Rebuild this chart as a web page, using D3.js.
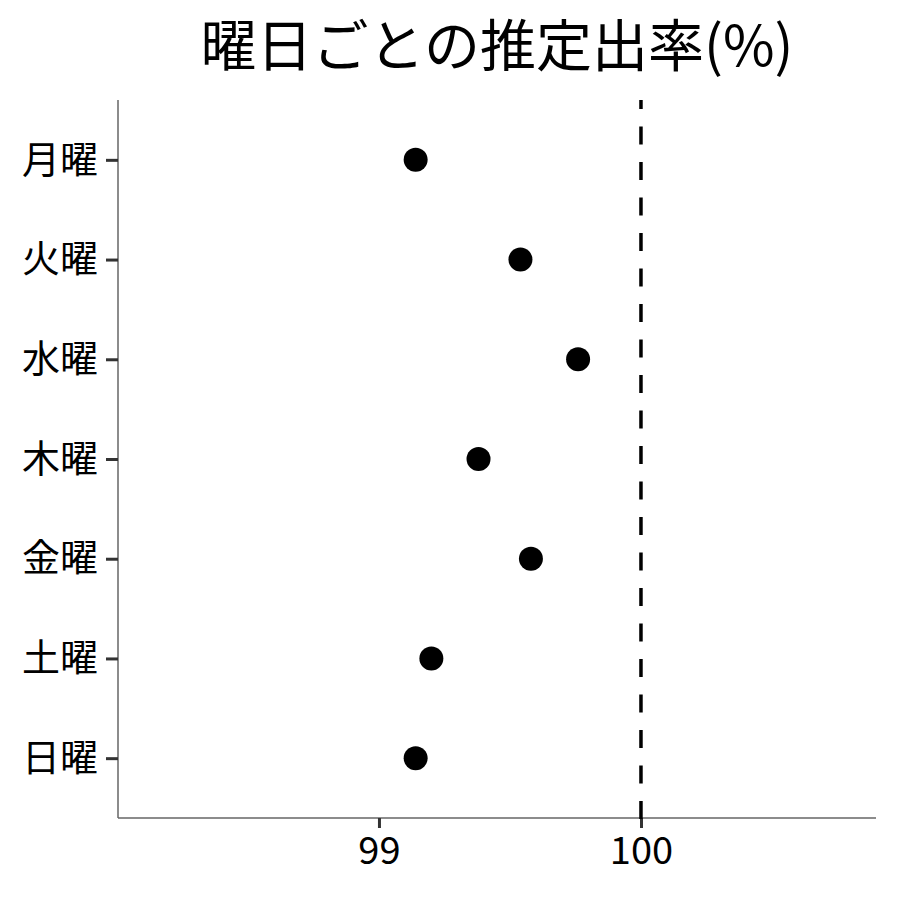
<!DOCTYPE html>
<html><head><meta charset="utf-8">
<script src="https://cdn.jsdelivr.net/npm/d3@7"></script>
<style>body{margin:0;background:#fff}</style>
</head><body>
<script>
const days = ["月曜","火曜","水曜","木曜","金曜","土曜","日曜"];
const rates = [99.14, 99.54, 99.76, 99.38, 99.58, 99.20, 99.14];
const xTicks = [99, 100];
const refValue = 100;
const titleText = "曜日ごとの推定出率(%)";

const W = 900, H = 900;
const m = {left:118, right:876, top:100, bottom:818};
const font = "'Noto Sans CJK JP', 'Noto Sans', sans-serif";

const svg = d3.select("body").append("svg").attr("width", W).attr("height", H);
svg.append("rect").attr("width", W).attr("height", H).attr("fill", "#fff");

const x = d3.scaleLinear().domain([98.004, 100.897]).range([m.left, m.right]);
const y = d3.scalePoint().domain(days).range([m.top, m.bottom]).padding(0.6);

// axes
const xAxis = svg.append("g").attr("transform", `translate(0,${m.bottom})`)
  .call(d3.axisBottom(x).tickValues(xTicks).tickSize(10).tickPadding(9).tickFormat(d3.format("d")));
const yAxis = svg.append("g").attr("transform", `translate(${m.left},0)`)
  .call(d3.axisLeft(y).tickSize(12).tickPadding(8));
[xAxis, yAxis].forEach(g => {
  g.select(".domain").attr("stroke", "#666").attr("stroke-width", 1.5);
  g.selectAll(".tick line").attr("stroke", "#333").attr("stroke-width", 3);
  g.selectAll(".tick text").attr("fill", "#000").style("font-family", font).style("font-size", "38px");
});
xAxis.select(".domain").attr("d", `M${m.left},0H${m.right}`);
yAxis.select(".domain").attr("d", `M0,${m.bottom}V${m.top}`);

// reference line (dashes start from bottom)
svg.append("line")
  .attr("x1", x(refValue)).attr("x2", x(refValue))
  .attr("y1", m.bottom + 1).attr("y2", m.top)
  .attr("stroke", "#000").attr("stroke-width", 3.5)
  .attr("stroke-dasharray", "18 17.5");

// points
svg.append("g").selectAll("circle").data(days).join("circle")
  .attr("cx", (d,i) => x(rates[i]))
  .attr("cy", d => y(d))
  .attr("r", 12)
  .attr("fill", "#000");

// title
svg.append("text").attr("x", (m.left + m.right)/2).attr("y", 66)
  .attr("text-anchor", "middle").style("font-family", font).style("font-size", "56px")
  .attr("fill", "#000").text(titleText);
</script>
</body></html>
